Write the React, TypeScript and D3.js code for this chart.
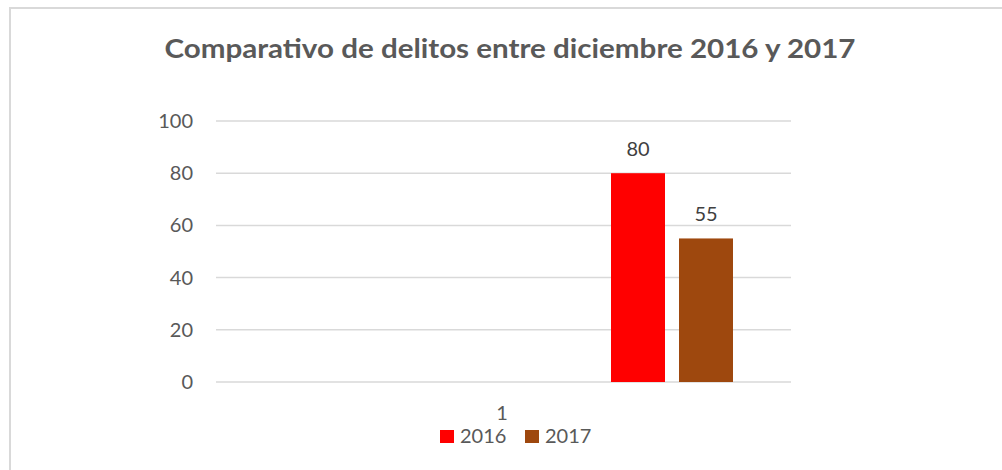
import React from "react";
import * as d3 from "d3";

const categories = ["1"];
// Excel-style cluster: five unused (empty) series slots precede the two plotted series
const seriesNames = ["s1", "s2", "s3", "s4", "s5", "2016", "2017"];
const seriesValues: (number | null)[] = [null, null, null, null, null, 80, 55];
const seriesColors = ["#ffffff", "#ffffff", "#ffffff", "#ffffff", "#ffffff", "#ff0000", "#9e480e"];
const legendSeries = ["2016", "2017"];
const yTicks = [0, 20, 40, 60, 80, 100];
const title = "Comparativo de delitos entre diciembre 2016 y 2017";

const W = 1002;
const H = 470;
const font = "Lato, 'Open Sans', sans-serif";
const textColor = "#595959";

export default function App() {
  const plotLeft = 216;
  const plotRight = 791;
  const y = d3.scaleLinear().domain([0, 100]).range([382, 121]);
  const x0 = d3
    .scaleBand<string>()
    .domain(categories)
    .range([plotLeft - 1.5, plotRight - 1.5])
    .paddingInner(0)
    .paddingOuter(0.1223);
  const x1 = d3
    .scaleBand<string>()
    .domain(seriesNames)
    .range([0, x0.bandwidth()])
    .paddingInner(0.206)
    .paddingOuter(0);

  return (
    <svg
      width={W}
      height={H}
      style={{ position: "absolute", left: 0, top: 0, background: "#fff" }}
    >
      <rect x={10} y={8} width={W} height={H} fill="#fff" stroke="#d9d9d9" strokeWidth={2} />
      <text
        x={510}
        y={58}
        textAnchor="middle"
        fontFamily={font}
        fontWeight="bold"
        fontSize={27}
        fill={textColor}
        textLength={691}
        lengthAdjust="spacingAndGlyphs"
      >
        {title}
      </text>
      {yTicks.map((t) => (
        <g key={t}>
          <line
            x1={plotLeft}
            x2={plotRight}
            y1={y(t)}
            y2={y(t)}
            stroke="#d9d9d9"
            strokeWidth={1.5}
          />
          <text
            x={193}
            y={y(t) + 7}
            textAnchor="end"
            fontFamily={font}
            fontSize={20}
            fill={textColor}
          >
            {t}
          </text>
        </g>
      ))}
      {categories.map((c) => (
        <g key={c} transform={`translate(${x0(c)},0)`}>
          {seriesNames.map((s, i) => {
            const v = seriesValues[i];
            if (v == null) return null;
            const bx = x1(s)!;
            return (
              <g key={s}>
                <rect
                  x={bx}
                  y={y(v)}
                  width={x1.bandwidth()}
                  height={y(0) - y(v)}
                  fill={seriesColors[i]}
                />
                <text
                  x={bx + x1.bandwidth() / 2}
                  y={y(v) - 17}
                  textAnchor="middle"
                  fontFamily={font}
                  fontSize={20}
                  fill="#404040"
                >
                  {v}
                </text>
              </g>
            );
          })}
          <text
            x={x0.bandwidth() / 2}
            y={420}
            textAnchor="middle"
            fontFamily={font}
            fontSize={20}
            fill={textColor}
          >
            {c}
          </text>
        </g>
      ))}
      {legendSeries.map((s, i) => {
        const idx = seriesNames.indexOf(s);
        const lx = 440 + i * 85;
        return (
          <g key={s}>
            <rect x={lx} y={430} width={14} height={13} fill={seriesColors[idx]} />
            <text x={lx + 20} y={443} fontFamily={font} fontSize={20} fill={textColor}>
              {s}
            </text>
          </g>
        );
      })}
    </svg>
  );
}
